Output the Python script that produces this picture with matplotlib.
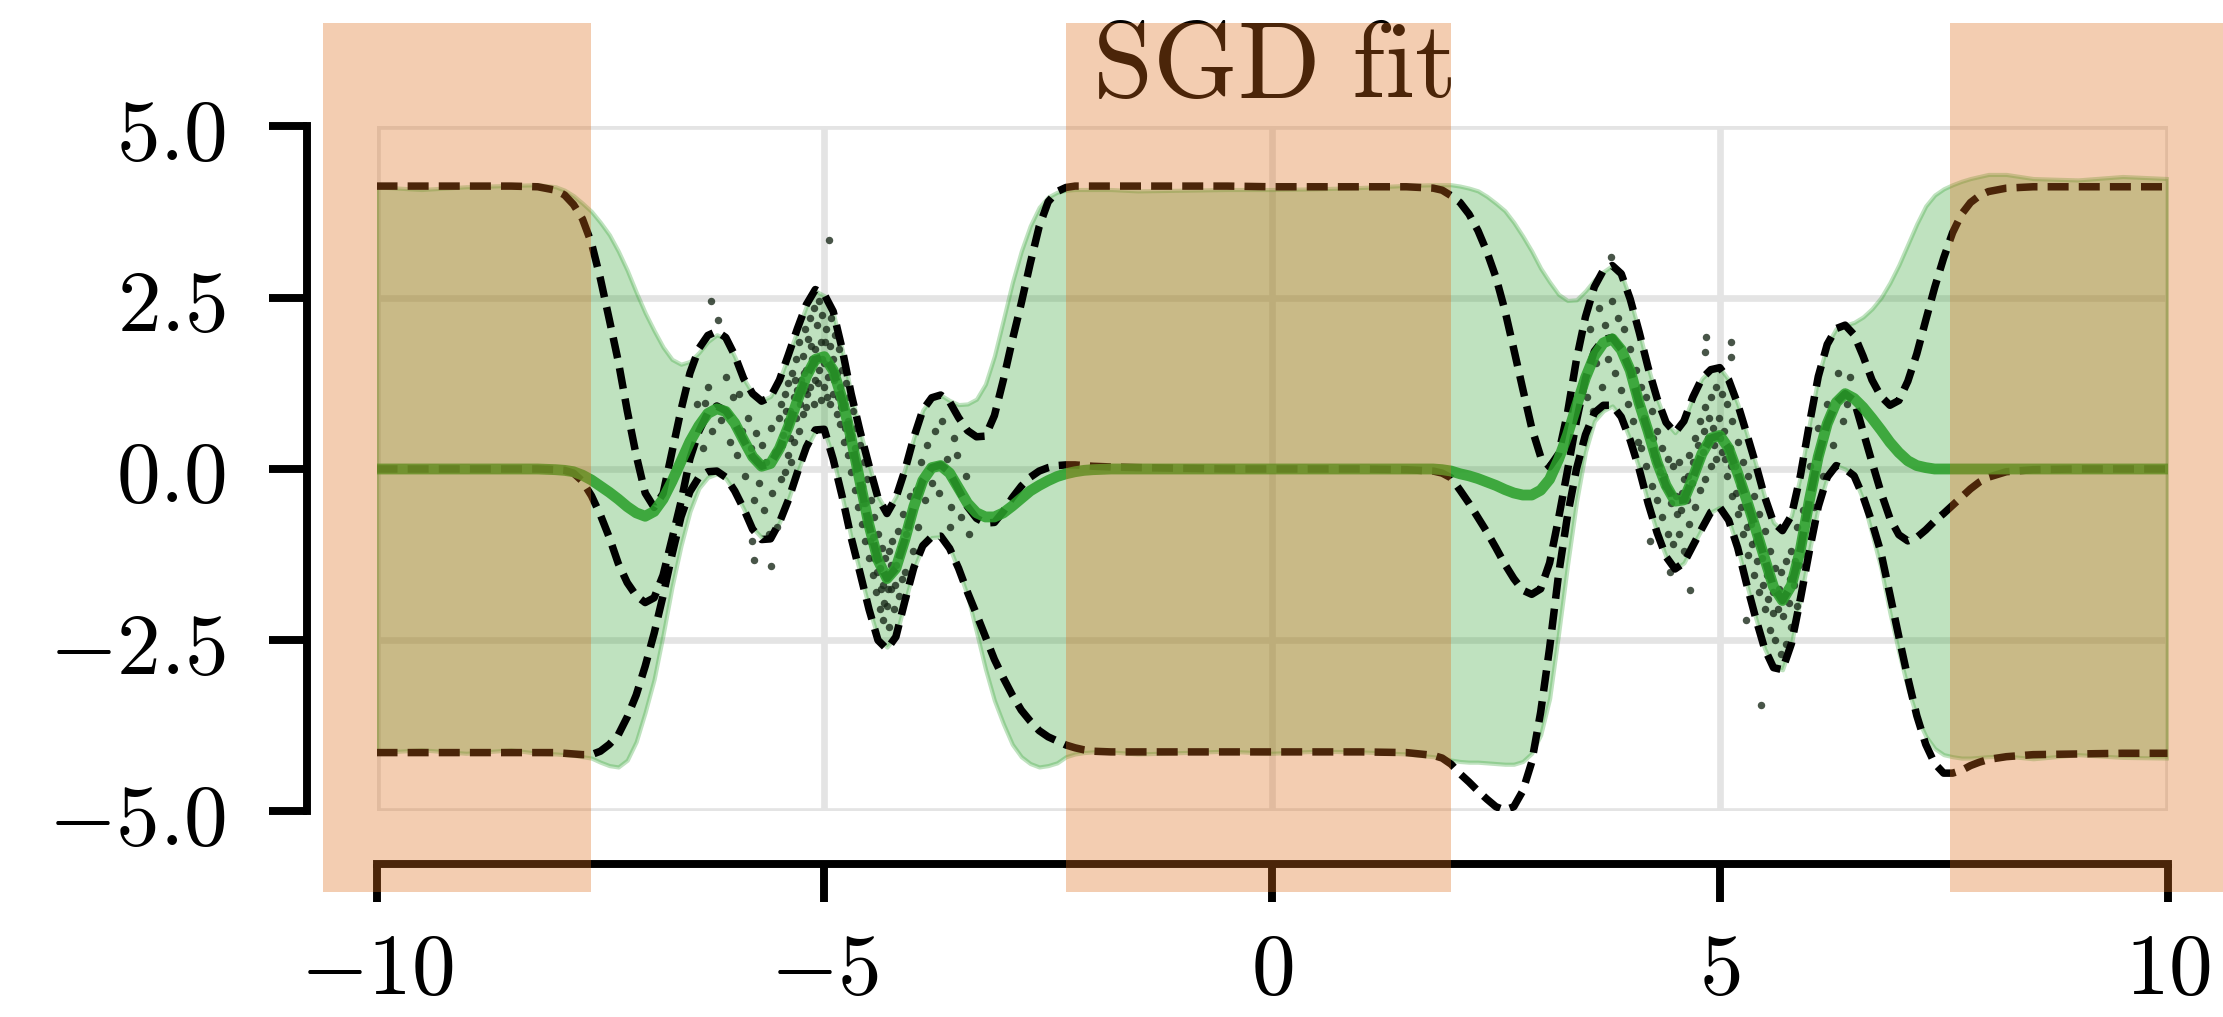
import numpy as np
import matplotlib
matplotlib.use("Agg")
import matplotlib.pyplot as plt

plt.rcParams['mathtext.fontset'] = 'cm'
plt.rcParams['font.family'] = ['DejaVu Serif']

# ---------------- data ----------------
x_grid = [
    -10.0, -9.5, -9.0, -8.5, -8.2,
    -8.0, -7.9, -7.8, -7.7, -7.6, -7.5, -7.4, -7.3, -7.2, -7.1,
    -7.0, -6.9, -6.8, -6.7, -6.6, -6.5, -6.4, -6.3, -6.2, -6.1,
    -6.0, -5.9, -5.8, -5.7, -5.6, -5.5, -5.4, -5.3, -5.2, -5.1,
    -5.0, -4.9, -4.8, -4.7, -4.6, -4.5, -4.4, -4.3, -4.2, -4.1,
    -4.0, -3.9, -3.8, -3.7, -3.6, -3.5, -3.4, -3.3, -3.2, -3.1,
    -3.0, -2.9, -2.8, -2.7, -2.6, -2.5, -2.4, -2.3, -2.2, -2.1,
    -2.0,
    -1.8, -1.5, -1.0, -0.5, 0.0, 0.5, 1.0, 1.5, 1.8,
    1.9, 2.0, 2.1, 2.2, 2.3, 2.4, 2.5, 2.6, 2.7, 2.8,
    2.9, 3.0, 3.1, 3.2, 3.3, 3.4, 3.5, 3.6, 3.7, 3.8,
    3.9, 4.0, 4.1, 4.2, 4.3, 4.4, 4.5, 4.6, 4.7, 4.8,
    4.9, 5.0, 5.1, 5.2, 5.3, 5.4, 5.5, 5.6, 5.7, 5.8,
    5.9, 6.0, 6.1, 6.2, 6.3, 6.4, 6.5, 6.6, 6.7, 6.8,
    6.9, 7.0, 7.1, 7.2, 7.3, 7.4, 7.5, 7.6, 7.7, 7.8,
    7.9, 8.0,
    8.2, 8.5, 9.0, 9.5, 10.0,
]

sgd_mean = [
    0.0, 0.0, 0.0, 0.0, 0.0,
    -0.01, -0.02, -0.04, -0.09, -0.16, -0.25, -0.34, -0.44, -0.55, -0.64,
    -0.69, -0.62, -0.44, -0.18, 0.11, 0.40, 0.63, 0.81, 0.88, 0.84,
    0.67, 0.42, 0.18, 0.04, 0.08, 0.30, 0.62, 1.00, 1.35, 1.60,
    1.64, 1.44, 1.02, 0.45, -0.19, -0.82, -1.33, -1.60, -1.45, -1.03,
    -0.55, -0.17, 0.02, 0.05, -0.06, -0.28, -0.50, -0.64, -0.70, -0.70,
    -0.64, -0.54, -0.43, -0.32, -0.24, -0.17, -0.11, -0.07, -0.04, -0.02,
    -0.01,
    0.0, 0.0, 0.0, 0.0, 0.0, 0.0, 0.0, 0.0, 0.0,
    -0.01, -0.03, -0.07, -0.10, -0.14, -0.19, -0.24, -0.30, -0.35, -0.38,
    -0.38, -0.31, -0.15, 0.14, 0.50, 0.92, 1.33, 1.65, 1.84, 1.90,
    1.74, 1.44, 0.96, 0.55, 0.10, -0.24, -0.47, -0.45, -0.13, 0.22,
    0.45, 0.49, 0.30, -0.06, -0.45, -0.87, -1.30, -1.72, -1.92, -1.70,
    -1.18, -0.46, 0.18, 0.66, 0.97, 1.10, 1.03, 0.90, 0.74, 0.57,
    0.39, 0.24, 0.12, 0.05, 0.02, 0.00, 0.00, 0.00, 0.00, 0.00,
    0.00, 0.00,
    0.0, 0.0, 0.0, 0.0, 0.0,
]

sgd_upper = [
    4.12, 4.08, 4.12, 4.14, 4.15,
    4.12, 4.07, 3.99, 3.88, 3.76, 3.60, 3.42, 3.18, 2.90, 2.58,
    2.28, 2.02, 1.78, 1.60, 1.53, 1.57, 1.70, 1.86, 1.96, 1.90,
    1.64, 1.32, 1.10, 1.00, 1.06, 1.30, 1.66, 2.03, 2.38, 2.60,
    2.53, 2.28, 1.74, 1.10, 0.55, 0.06, -0.40, -0.62, -0.40, 0.00,
    0.46, 0.86, 1.04, 1.08, 1.00, 0.94, 0.95, 1.02, 1.24, 1.65,
    2.18, 2.72, 3.18, 3.55, 3.82, 3.97, 4.04, 4.07, 4.08, 4.08,
    4.08,
    4.08, 4.06, 4.07, 4.08, 4.08, 4.09, 4.11, 4.14, 4.15,
    4.15, 4.15, 4.13, 4.10, 4.06, 3.98, 3.88, 3.77, 3.60, 3.40,
    3.18, 2.93, 2.73, 2.55, 2.46, 2.47, 2.60, 2.76, 2.88, 2.97,
    2.85, 2.48, 2.00, 1.48, 1.03, 0.68, 0.53, 0.70, 1.05, 1.32,
    1.45, 1.48, 1.30, 0.95, 0.52, 0.08, -0.40, -0.78, -0.90, -0.68,
    -0.10, 0.65, 1.35, 1.82, 2.05, 2.10, 2.14, 2.22, 2.34, 2.50,
    2.72, 2.98, 3.28, 3.58, 3.84, 4.00, 4.09, 4.15, 4.20, 4.24,
    4.27, 4.30,
    4.30, 4.24, 4.22, 4.27, 4.24,
]

sgd_lower = [
    -4.14, -4.10, -4.15, -4.10, -4.15,
    -4.16, -4.17, -4.18, -4.20, -4.22, -4.28, -4.33, -4.35, -4.25, -3.98,
    -3.55, -3.07, -2.42, -1.72, -1.12, -0.62, -0.28, -0.12, -0.07, -0.14,
    -0.33, -0.58, -0.86, -1.00, -1.00, -0.78, -0.44, -0.05, 0.30, 0.55,
    0.56, 0.16, -0.40, -1.00, -1.52, -2.03, -2.47, -2.60, -2.44, -1.95,
    -1.46, -1.13, -1.00, -0.99, -1.15, -1.48, -1.85, -2.38, -2.92, -3.38,
    -3.72, -4.02, -4.20, -4.30, -4.35, -4.33, -4.29, -4.20, -4.16, -4.14,
    -4.13,
    -4.13, -4.16, -4.14, -4.12, -4.15, -4.12, -4.13, -4.16, -4.20,
    -4.22, -4.25, -4.27, -4.28, -4.28, -4.29, -4.30, -4.31, -4.31, -4.27,
    -4.15, -3.88, -3.35, -2.40, -1.40, -0.48, 0.25, 0.70, 0.85, 0.92,
    0.76, 0.42, 0.00, -0.50, -0.93, -1.28, -1.46, -1.37, -1.12, -0.87,
    -0.63, -0.56, -0.75, -1.15, -1.68, -2.17, -2.62, -2.90, -2.93, -2.55,
    -1.90, -1.20, -0.55, -0.12, 0.05, 0.00, -0.12, -0.45, -0.95, -1.45,
    -2.10, -2.68, -3.20, -3.62, -3.90, -4.08, -4.17, -4.20, -4.22, -4.22,
    -4.21, -4.20,
    -4.19, -4.23, -4.17, -4.21, -4.22,
]

exact_mean = [
    0.0, 0.0, 0.0, 0.0, 0.0,
    -0.01, -0.02, -0.06, -0.18, -0.39, -0.67, -1.00, -1.38, -1.66, -1.85,
    -1.95, -1.88, -1.55, -1.02, -0.48, 0.15, 0.55, 0.82, 0.92, 0.85,
    0.67, 0.42, 0.18, 0.04, 0.08, 0.30, 0.62, 1.00, 1.35, 1.60,
    1.64, 1.44, 1.02, 0.45, -0.19, -0.82, -1.33, -1.60, -1.45, -1.03,
    -0.55, -0.17, 0.02, 0.06, -0.05, -0.30, -0.55, -0.72, -0.79, -0.78,
    -0.62, -0.42, -0.25, -0.12, -0.03, 0.02, 0.05, 0.06, 0.06, 0.05,
    0.04,
    0.03, 0.02, 0.01, 0.00, 0.00, 0.00, 0.00, -0.01, -0.03,
    -0.06, -0.13, -0.31, -0.50, -0.71, -0.92, -1.15, -1.39, -1.60, -1.77,
    -1.83, -1.75, -1.37, -0.72, -0.02, 0.70, 1.32, 1.72, 1.89, 1.92,
    1.75, 1.44, 0.96, 0.55, 0.10, -0.24, -0.47, -0.45, -0.13, 0.22,
    0.45, 0.49, 0.30, -0.06, -0.45, -0.87, -1.30, -1.72, -1.92, -1.70,
    -1.18, -0.46, 0.18, 0.66, 0.97, 1.10, 1.00, 0.55, 0.10, -0.34,
    -0.72, -0.96, -1.05, -1.00, -0.89, -0.76, -0.65, -0.53, -0.41, -0.29,
    -0.19, -0.12,
    -0.04, -0.01, 0.00, 0.00, 0.00,
]

exact_upper = [
    4.13, 4.13, 4.13, 4.13, 4.12,
    4.07, 4.00, 3.86, 3.65, 3.30, 2.78, 2.18, 1.57, 0.85, 0.20,
    -0.35, -0.56, -0.36, 0.25, 0.86, 1.40, 1.76, 1.95, 2.01, 1.92,
    1.66, 1.32, 1.10, 0.99, 1.05, 1.30, 1.67, 2.05, 2.40, 2.62,
    2.55, 2.30, 1.75, 1.10, 0.55, 0.05, -0.42, -0.65, -0.42, -0.02,
    0.46, 0.86, 1.04, 1.08, 0.98, 0.75, 0.56, 0.47, 0.48, 0.78,
    1.30, 1.88, 2.42, 3.00, 3.54, 3.90, 4.05, 4.11, 4.13, 4.13,
    4.13,
    4.13, 4.13, 4.13, 4.13, 4.12, 4.12, 4.12, 4.12, 4.10,
    4.07, 3.99, 3.89, 3.72, 3.48, 3.17, 2.80, 2.32, 1.75, 1.17,
    0.60, 0.18, 0.03, 0.22, 0.82, 1.60, 2.22, 2.66, 2.90, 2.97,
    2.85, 2.48, 2.00, 1.48, 1.03, 0.68, 0.53, 0.70, 1.05, 1.32,
    1.45, 1.48, 1.30, 0.95, 0.52, 0.08, -0.40, -0.78, -0.90, -0.68,
    -0.10, 0.65, 1.35, 1.82, 2.05, 2.10, 1.96, 1.65, 1.30, 1.06,
    0.93, 1.00, 1.28, 1.68, 2.17, 2.65, 3.08, 3.45, 3.72, 3.89,
    3.99, 4.05,
    4.10, 4.12, 4.12, 4.12, 4.12,
]

exact_lower = [
    -4.14, -4.14, -4.14, -4.14, -4.14,
    -4.14, -4.15, -4.16, -4.17, -4.17, -4.12, -4.02, -3.88, -3.62, -3.30,
    -2.88, -2.40, -1.85, -1.25, -0.70, -0.33, -0.12, -0.04, -0.03, -0.12,
    -0.32, -0.58, -0.88, -1.03, -1.02, -0.78, -0.45, -0.05, 0.32, 0.57,
    0.58, 0.14, -0.40, -1.00, -1.52, -2.05, -2.50, -2.63, -2.45, -1.93,
    -1.44, -1.12, -0.99, -0.98, -1.16, -1.45, -1.80, -2.12, -2.45, -2.78,
    -3.05, -3.30, -3.52, -3.68, -3.82, -3.91, -3.97, -4.03, -4.07, -4.10,
    -4.12,
    -4.13, -4.13, -4.13, -4.13, -4.13, -4.13, -4.13, -4.14, -4.18,
    -4.22, -4.31, -4.45, -4.57, -4.70, -4.82, -4.93, -4.98, -4.93, -4.70,
    -4.28, -3.55, -2.61, -1.54, -0.68, 0.00, 0.50, 0.82, 0.93, 0.93,
    0.76, 0.42, 0.00, -0.50, -0.93, -1.28, -1.46, -1.37, -1.12, -0.87,
    -0.63, -0.56, -0.75, -1.15, -1.68, -2.17, -2.62, -2.90, -2.93, -2.55,
    -1.90, -1.20, -0.55, -0.12, 0.05, 0.00, -0.10, -0.40, -0.78, -1.22,
    -1.83, -2.45, -3.05, -3.60, -4.02, -4.30, -4.44, -4.44, -4.40, -4.33,
    -4.28, -4.24,
    -4.20, -4.17, -4.16, -4.15, -4.15,
]

# observed training points (approximate read-off)
left_points = [
    (-6.42, 0.95), (-6.35, 0.30), (-6.33, 0.97), (-6.30, 1.20), (-6.27, 2.45),
    (-6.25, 0.55), (-6.19, 2.18), (-6.15, 0.72), (-6.10, 1.35), (-6.05, 0.40),
    (-6.02, 1.05), (-5.98, 0.20), (-5.95, 1.10), (-5.92, 0.55), (-5.88, -0.10),
    (-5.85, 0.75), (-5.82, 0.30), (-5.81, -1.05), (-5.79, -0.45), (-5.79, -1.33),
    (-5.76, 0.52), (-5.73, -0.20), (-5.70, 0.35), (-5.67, -0.60), (-5.65, 0.10),
    (-5.62, -0.95), (-5.60, 0.60), (-5.59, -1.42), (-5.58, -0.35), (-5.55, 0.25),
    (-5.53, -0.85), (-5.51, 0.75), (-5.48, 0.95), (-5.48, -0.15), (-5.46, 0.50),
    (-5.44, 1.10), (-5.44, -0.05), (-5.42, 0.70), (-5.40, 1.25), (-5.40, 0.20),
    (-5.38, 0.85), (-5.38, 0.45), (-5.36, 1.40), (-5.34, 0.40), (-5.34, 1.05),
    (-5.32, 1.60), (-5.32, 0.75), (-5.30, 1.15), (-5.28, 0.55), (-5.28, 1.85),
    (-5.26, 1.30), (-5.24, 0.80), (-5.24, 1.65), (-5.22, 2.05), (-5.22, 1.15),
    (-5.20, 1.45), (-5.20, 0.90), (-5.18, 1.90), (-5.16, 1.20), (-5.16, 2.20),
    (-5.14, 1.60), (-5.12, 0.95), (-5.12, 2.35), (-5.10, 1.75), (-5.10, 1.30),
    (-5.08, 2.10), (-5.06, 1.45), (-5.06, 2.45), (-5.04, 1.00), (-5.04, 1.85),
    (-5.02, 2.25), (-5.00, 1.55), (-5.00, 1.20), (-4.98, 2.05), (-4.95, 3.35),
    (-4.96, 1.35), (-4.94, 1.80), (-4.94, 0.95), (-4.92, 2.20), (-4.90, 1.10),
    (-4.90, 1.60), (-4.88, 1.95), (-4.86, 0.80), (-4.86, 1.40), (-4.84, 1.75),
    (-4.82, 0.65), (-4.82, 1.20), (-4.80, 1.45), (-4.78, 0.40), (-4.78, 0.95),
    (-4.76, 1.25), (-4.74, 0.20), (-4.74, 0.70), (-4.72, 1.05), (-4.70, -0.05),
    (-4.70, 0.50), (-4.68, 0.85), (-4.66, -0.30), (-4.66, 0.30), (-4.64, 0.60),
    (-4.62, -0.55), (-4.62, 0.05), (-4.60, 0.35), (-4.58, -0.80), (-4.58, -0.25),
    (-4.56, 0.10), (-4.54, -1.05), (-4.54, -0.50), (-4.52, -0.15), (-4.50, -1.30),
    (-4.50, -0.75), (-4.48, -0.45), (-4.46, -1.55), (-4.46, -1.00), (-4.44, -0.70),
    (-4.42, -1.80), (-4.42, -1.25), (-4.40, -0.95), (-4.38, -2.05), (-4.38, -1.45),
    (-4.36, -1.15), (-4.34, -2.20), (-4.34, -1.70), (-4.32, -1.30), (-4.30, -2.00),
    (-4.30, -1.55), (-4.28, -1.20), (-4.28, -2.30), (-4.26, -1.75), (-4.24, -1.05),
    (-4.22, -2.05), (-4.20, -1.40), (-4.18, -0.90), (-4.16, -1.85), (-4.14, -1.15),
    (-4.12, -0.65), (-4.10, -1.50), (-4.07, -0.85), (-4.04, -0.40), (-4.01, -1.20),
    (-3.98, -0.30), (-3.95, -0.85), (-3.92, 0.10), (-3.88, -0.45), (-3.85, 0.35),
    (-3.80, -0.20), (-3.76, 0.55), (-3.72, -0.35), (-3.68, 0.70), (-3.63, 0.15),
    (-3.60, -0.85), (-3.58, -0.55), (-3.55, 0.45), (-3.52, 0.20), (-3.47, -0.70),
    (-3.42, -0.10), (-3.38, -0.95),
    (-5.47, 0.35), (-5.43, 0.85), (-5.37, 0.10), (-5.33, 1.30), (-5.27, 0.95),
    (-5.23, 1.40), (-5.19, 1.10), (-5.15, 1.80), (-5.11, 1.55), (-5.07, 1.25),
    (-5.03, 1.60), (-4.99, 1.85), (-4.97, 1.05), (-4.93, 1.50), (-4.89, 1.30),
    (-4.85, 1.05), (-4.81, 0.90), (-4.77, 0.60), (-4.73, 0.45), (-4.69, 0.20),
    (-4.65, 0.00), (-4.61, -0.30), (-4.57, -0.50), (-4.53, -0.80), (-4.49, -1.05),
    (-4.45, -1.30), (-4.41, -1.50), (-4.37, -1.75), (-4.33, -1.95), (-4.29, -1.75),
    (-4.25, -1.40), (-4.21, -1.70), (-4.17, -1.25), (-4.13, -1.60), (-4.09, -0.95),
]

right_points = [
    (3.52, 1.05), (3.55, 2.05), (3.58, 0.85), (3.62, 1.55), (3.65, 2.35),
    (3.68, 1.20), (3.72, 2.10), (3.75, 1.60), (3.79, 3.10), (3.80, 2.45),
    (3.83, 1.40), (3.86, 2.20), (3.90, 1.15), (3.93, 2.05), (3.97, 0.95),
    (4.00, 1.75), (4.03, 0.70), (4.06, 1.45), (4.09, 0.40), (4.12, 1.20),
    (4.12, 0.30), (4.15, 0.75), (4.18, 1.05), (4.18, 0.05), (4.21, 0.50),
    (4.22, -1.05), (4.24, 0.85), (4.24, -0.25), (4.27, 0.20), (4.30, 0.55),
    (4.30, -0.45), (4.33, -0.05), (4.36, 0.30), (4.36, -0.70), (4.39, -0.25),
    (4.42, 0.15), (4.42, -0.95), (4.44, -1.50), (4.45, -0.50), (4.48, 0.05),
    (4.48, -1.10), (4.51, -0.40), (4.54, -0.95), (4.54, 0.10), (4.57, -0.60),
    (4.60, -0.15), (4.60, -1.20), (4.63, -0.45), (4.66, 0.20), (4.66, -0.80),
    (4.67, -1.76), (4.69, -0.20), (4.72, 0.45), (4.72, -0.55), (4.75, 0.05),
    (4.78, 0.70), (4.78, -0.30), (4.81, 0.25), (4.84, 1.71), (4.84, 0.90),
    (4.84, -0.15), (4.85, 1.93), (4.87, 0.45), (4.90, 1.05), (4.90, 0.05),
    (4.93, 0.60), (4.96, 1.20), (4.96, 0.15), (4.99, 0.75), (5.02, 0.25),
    (5.02, 1.10), (5.05, 0.55), (5.08, -0.10), (5.08, 0.95), (5.11, 0.30),
    (5.13, 1.85), (5.13, 1.63), (5.14, -0.40), (5.14, 0.70), (5.17, 0.05),
    (5.20, -0.65), (5.20, 0.40), (5.23, -0.25), (5.26, -0.95), (5.26, 0.10),
    (5.29, -0.55), (5.29, -2.20), (5.32, -1.25), (5.32, -0.10), (5.35, -0.80),
    (5.38, -1.55), (5.38, -0.40), (5.41, -1.05), (5.44, -1.80), (5.44, -0.65),
    (5.46, -3.45), (5.47, -1.30), (5.50, -2.05), (5.50, -0.90), (5.53, -1.55),
    (5.56, -2.35), (5.56, -1.20), (5.59, -1.80), (5.62, -2.50), (5.62, -1.45),
    (5.65, -2.05), (5.68, -2.70), (5.68, -1.50), (5.71, -2.15), (5.74, -2.55),
    (5.74, -1.35), (5.77, -1.95), (5.80, -2.30), (5.80, -1.20), (5.83, -1.70),
    (5.86, -2.00), (5.86, -0.85), (5.89, -1.40), (5.93, -0.60), (5.97, -1.25),
    (6.01, 0.05), (6.05, -0.55), (6.10, 0.60), (6.15, -0.10), (6.20, 0.95),
    (6.26, 0.35), (6.32, 1.40), (6.38, 0.70), (6.42, 0.95), (6.45, 1.35),
    (4.26, 0.45), (4.32, 0.05), (4.38, -0.10), (4.46, -0.35), (4.52, -0.65),
    (4.58, -0.35), (4.64, -0.10), (4.70, 0.10), (4.76, 0.35), (4.82, 0.55),
    (4.88, 0.75), (4.94, 0.35), (5.00, 0.45), (5.06, 0.15), (5.12, 0.05),
    (5.18, -0.35), (5.24, -0.55), (5.30, -0.85), (5.36, -1.10), (5.42, -1.35),
    (5.48, -1.70), (5.54, -1.90), (5.60, -2.10), (5.66, -1.75), (5.72, -1.85),
    (5.78, -1.60), (5.84, -1.35),
]

no_data_spans = [(-10.6, -7.6), (-2.3, 2.0), (7.57, 10.7)]
x_ticks = [-10, -5, 0, 5, 10]
y_ticks = [-5.0, -2.5, 0.0, 2.5, 5.0]
title_text = "SGD fit"

# ---------------- plot ----------------
W, H, DPI = 2223, 1017, 300
fig = plt.figure(figsize=(W / DPI, H / DPI), dpi=DPI)
ax = fig.add_axes([0.16937, 0.20207, 0.80567, 0.67355])

xg = np.array(x_grid)
green = '#2ca02c'

ax.fill_between(xg, sgd_lower, sgd_upper, color=green, alpha=0.3, lw=1.0, zorder=1)

lx, ly = zip(*left_points)
rx, ry = zip(*right_points)
ax.scatter(list(lx) + list(rx), list(ly) + list(ry), s=3.2, color='#1a2a1a',
           alpha=0.8, linewidths=0, zorder=2)

for series in (exact_mean, exact_upper, exact_lower):
    ax.plot(xg, series, color='k', lw=1.8, dashes=(2.8, 1.35), zorder=3)

ax.plot(xg, sgd_mean, color=green, lw=2.6, alpha=0.88, zorder=4,
        solid_capstyle='round')

for (a, b) in no_data_spans:
    ax.axvspan(a, b, ymin=-0.1175, ymax=1.151, facecolor=(0.87, 0.43, 0.11),
               alpha=0.34, edgecolor='none', clip_on=False, zorder=10)

ax.set_xlim(-10, 10)
ax.set_ylim(-5, 5)
ax.set_xticks(x_ticks)
ax.set_yticks(y_ticks)
ax.set_xticklabels([f'${v:g}$' for v in x_ticks])
ax.set_yticklabels([f'${v:.1f}$' for v in y_ticks])

ax.grid(True, color='#e4e4e4', lw=1.6)
ax.set_axisbelow(True)

for s in ('top', 'right'):
    ax.spines[s].set_visible(False)
ax.spines['left'].set_position(('outward', 16.8))
ax.spines['bottom'].set_position(('outward', 12.5))
ax.spines['left'].set_bounds(-5, 5)
ax.spines['bottom'].set_bounds(-10, 10)
for s in ('left', 'bottom'):
    ax.spines[s].set_linewidth(1.9)

ax.tick_params(direction='out', length=9.2, width=1.9, labelsize=21)
ax.tick_params(axis='y', pad=10)
ax.tick_params(axis='x', pad=6)

ax.set_title(r'$\mathrm{' + title_text.replace(' ', r'\ ') + '}$', fontsize=26, pad=7)

fig.savefig('out.png', dpi=DPI)
